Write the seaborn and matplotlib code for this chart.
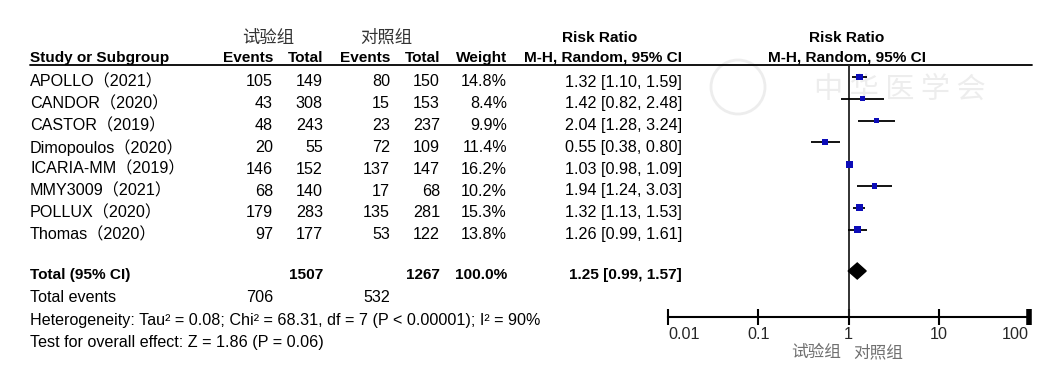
import numpy as np
import pandas as pd
import matplotlib
matplotlib.use("Agg")
import matplotlib.pyplot as plt
import seaborn as sns
from matplotlib.ticker import FixedLocator, NullLocator
from matplotlib.patches import Circle

# ---- data ----
studies = ["APOLLO（2021）", "CANDOR（2020）", "CASTOR（2019）", "Dimopoulos（2020）",
           "ICARIA-MM（2019）", "MMY3009（2021）", "POLLUX（2020）", "Thomas（2020）"]
exp_events = [105, 43, 48, 20, 146, 68, 179, 97]
exp_total = [149, 308, 243, 55, 152, 140, 283, 177]
ctl_events = [80, 15, 23, 72, 137, 17, 135, 53]
ctl_total = [150, 153, 237, 109, 147, 68, 281, 122]
weights = [14.8, 8.4, 9.9, 11.4, 16.2, 10.2, 15.3, 13.8]
rr = [1.32, 1.42, 2.04, 0.55, 1.03, 1.94, 1.32, 1.26]
rr_lo = [1.10, 0.82, 1.28, 0.38, 0.98, 1.24, 1.13, 0.99]
rr_hi = [1.59, 2.48, 3.24, 0.80, 1.09, 3.03, 1.53, 1.61]
pooled = [1.25, 0.99, 1.57]
pooled_totals = [1507, 1267]
pooled_events = [706, 532]
heterogeneity = "Heterogeneity: Tau² = 0.08; Chi² = 68.31, df = 7 (P < 0.00001); I² = 90%"
overall = "Test for overall effect: Z = 1.86 (P = 0.06)"
group_labels = ["试验组", "对照组"]
ticks = [0.01, 0.1, 1, 10, 100]
tick_labels = ["0.01", "0.1", "1", "10", "100"]

df = pd.DataFrame({"study": studies, "rr": rr, "lo": rr_lo, "hi": rr_hi, "weight": weights})

# ---- layout (pixels) ----
W, H = 1060, 370
row0, row_step = 82, 21.8
df["ytext"] = row0 + row_step * np.arange(len(df))
df["ymark"] = df["ytext"] - 5
y_total = 275
y_events = 298
y_het = 321
y_test = 343
y_head1, y_head2 = 38, 58
line_y = 65
axis_y = 317
col_x = [273, 323, 390, 440, 507, 682]

REG, BOLD = 11.6, 11.1

sns.set_theme(style="white")
FONT = ["Liberation Sans", "Noto Sans CJK SC", "DejaVu Sans"]
plt.rcParams["font.family"] = FONT

fig = plt.figure(figsize=(W / 100, H / 100), dpi=100)
bg = fig.add_axes([0, 0, 1, 1])
bg.set_xlim(0, W)
bg.set_ylim(H, 0)
bg.axis("off")


def put(x, y, s, ha="right", bold=False, size=None, color="black", family=FONT):
    if size is None:
        size = BOLD if bold else REG
    bg.text(x, y, s, ha=ha, va="center", fontsize=size, color=color,
            fontweight="bold" if bold else "normal", family=family)


# watermark
bg.add_patch(Circle((738, 87), 27, fill=False, ec="#ededed", lw=2))
bg.text(900, 90, "中 华 医 学 会", ha="center", va="center", fontsize=21, color="#ededed",
        family=["Noto Sans CJK SC"], style="italic")

# headers
put(268, y_head1, group_labels[0], ha="center", size=12.5, color="#333333")
put(386, y_head1, group_labels[1], ha="center", size=12.5, color="#333333")
put(600, y_head1, "Risk Ratio", ha="center", bold=True)
put(847, y_head1, "Risk Ratio", ha="center", bold=True)
put(30, y_head2, "Study or Subgroup", ha="left", bold=True)
for x, s in zip(col_x, ["Events", "Total", "Events", "Total", "Weight", "M-H, Random, 95% CI"]):
    put(x, y_head2, s, bold=True)
put(847, y_head2, "M-H, Random, 95% CI", ha="center", bold=True)
bg.plot([30, 1032], [line_y, line_y], color="black", lw=1.3)

# study rows
for i, r in df.iterrows():
    y = r["ytext"]
    put(30, y, r["study"], ha="left")
    put(col_x[0], y, str(exp_events[i]))
    put(col_x[1], y, str(exp_total[i]))
    put(col_x[2], y, str(ctl_events[i]))
    put(col_x[3], y, str(ctl_total[i]))
    put(col_x[4], y, f"{r['weight']:.1f}%")
    put(col_x[5], y, f"{r['rr']:.2f} [{r['lo']:.2f}, {r['hi']:.2f}]")

# totals
put(30, y_total, "Total (95% CI)", ha="left", bold=True)
put(col_x[1], y_total, str(pooled_totals[0]), bold=True)
put(col_x[3], y_total, str(pooled_totals[1]), bold=True)
put(col_x[4], y_total, "100.0%", bold=True)
put(col_x[5], y_total, f"{pooled[0]:.2f} [{pooled[1]:.2f}, {pooled[2]:.2f}]", bold=True)
put(30, y_events, "Total events", ha="left")
put(col_x[0], y_events, str(pooled_events[0]))
put(col_x[2], y_events, str(pooled_events[1]))
put(30, y_het, heterogeneity, ha="left")
put(30, y_test, overall, ha="left")

# ---- forest panel ----
ax = fig.add_axes([668 / W, (H - axis_y) / H, (1029 - 668) / W, (axis_y - line_y) / H])
ax.patch.set_alpha(0)
ax.set_xscale("log")
ax.set_xlim(ticks[0], ticks[-1])
ax.set_ylim(axis_y, line_y)

ax.axvline(1, color="#222222", lw=1.3, zorder=1)
ax.hlines(df["ymark"], df["lo"], df["hi"], color="black", lw=1.3, zorder=2)
sns.scatterplot(data=df, x="rr", y="ymark", size="weight", sizes=(0, 34), size_norm=(0, 20),
                marker="s", color="#0c0cb8", linewidth=0, legend=False, ax=ax, zorder=3)
yd = y_total - 4
ax.fill([pooled[1], pooled[0], pooled[2], pooled[0]], [yd, yd - 8, yd, yd + 8],
        color="black", zorder=3)

for side in ["top", "left", "right"]:
    ax.spines[side].set_visible(False)
ax.spines["bottom"].set_color("black")
ax.spines["bottom"].set_linewidth(1.5)
ax.xaxis.set_major_locator(FixedLocator(ticks))
ax.xaxis.set_minor_locator(NullLocator())
ax.set_xticklabels(tick_labels)
ax.set_yticks([])
ax.set_xlabel("")
ax.set_ylabel("")
ax.tick_params(axis="x", direction="inout", length=11, width=1.5, color="black",
               labelsize=REG, pad=2, bottom=True)
labels = ax.get_xticklabels()
labels[0].set_horizontalalignment("left")
labels[-1].set_horizontalalignment("right")
ax.xaxis.get_major_ticks()[-1].tick1line.set_markeredgewidth(4)

put(816, 352, group_labels[0], ha="center", size=12, color="#707070")
put(878, 352, group_labels[1], ha="center", size=12, color="#707070")

fig.savefig("out.png", dpi=100)
plt.close(fig)
